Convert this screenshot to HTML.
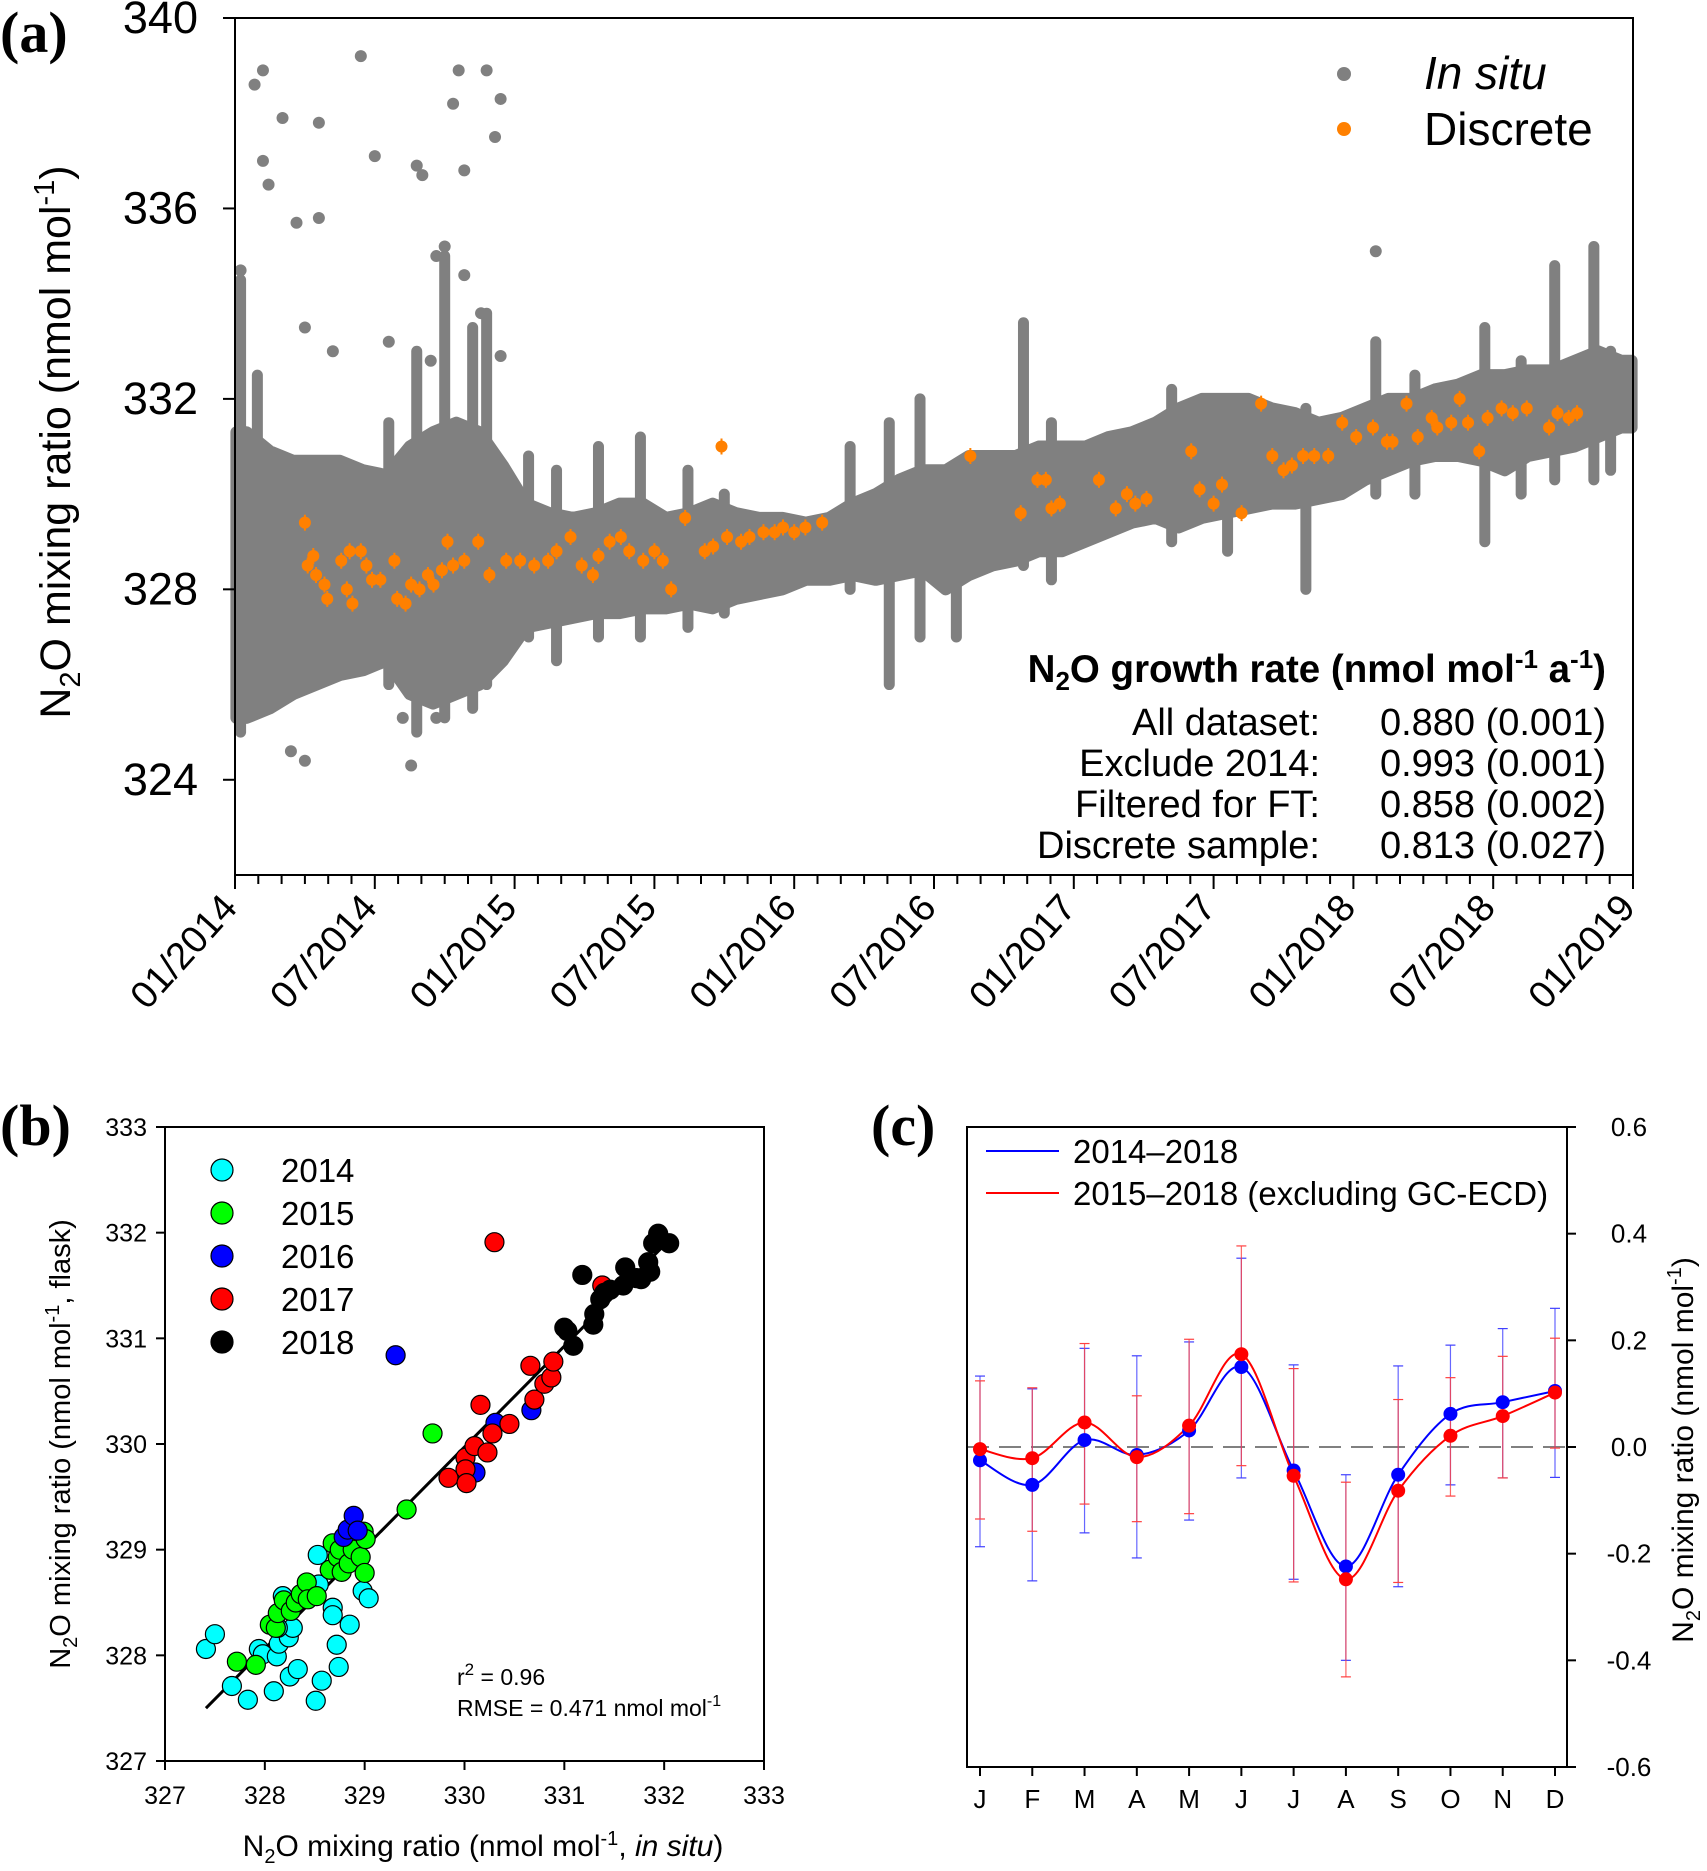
<!DOCTYPE html>
<html><head><meta charset="utf-8"><style>
body{margin:0;background:#fff}
svg{display:block;font-family:"Liberation Sans",Arial,sans-serif}
.pl{font-family:"Liberation Serif",serif;font-weight:bold}
</style></head><body>
<svg id="fig" width="1707" height="1871" viewBox="0 0 1707 1871" xmlns="http://www.w3.org/2000/svg">
<text class="pl" x="0" y="52" font-size="58">(a)</text>
<text class="pl" x="0" y="1145" font-size="58">(b)</text>
<text class="pl" x="871" y="1145" font-size="58">(c)</text>
<g id="pa"></g>
<g id="pb"></g>
<g id="pc"></g>
</svg>
<script>
// ---------- Panel A data ----------
const aYTicks=[324,328,332,336,340];
const aXLabels=["01/2014","07/2014","01/2015","07/2015","01/2016","07/2016","01/2017","07/2017","01/2018","07/2018","01/2019"];
const bandLow=[325.3,325.5,325.8,326,326.2,326.3,326.5,325.8,325.6,325.8,326,326.5,
327.2,327.3,327.4,327.5,327.5,327.6,327.6,327.7,327.6,327.8,327.9,328.0,
328.2,328.2,328.3,328.2,328.3,328.4,328.0,328.3,328.5,328.6,328.8,328.8,
329,329.2,329.4,329.5,329.3,329.5,329.6,329.7,329.8,329.8,329.9,330.0,
330.3,330.5,330.7,330.8,330.8,330.7,330.5,330.8,330.9,331,331.2,331.4];
const bandHigh=[331.3,330.9,330.7,330.7,330.7,330.5,330.4,331.0,331.3,331.5,331.3,330.6,
329.8,329.6,329.5,329.6,329.8,329.8,329.5,329.6,329.8,329.6,329.5,329.5,
329.4,329.5,329.8,330.0,330.3,330.5,330.5,330.8,330.8,330.8,331,331,
331,331.2,331.3,331.5,331.8,332,332,332,331.8,331.7,331.5,331.6,
331.8,332,332,332.2,332.3,332.5,332.5,332.6,332.6,332.8,333,332.8];
const spikes=[[2014.02,325,334.5],[2014.08,326,332.5],[2014.55,326,331.5],[2014.65,325,333],[2014.75,325.3,335],[2014.85,325.5,333.5],[2014.9,326,333.8],[2015.05,327,330.8],[2015.15,326.5,330.5],[2015.3,327,331],[2015.45,327,331.2],[2015.62,327.2,330.5],[2015.75,327.5,330],[2016.2,328,331],[2016.34,326,331.5],[2016.45,327,332],[2016.58,327,330.5],[2016.82,328.5,333.6],[2016.92,328.2,331.5],[2017.35,329,332.2],[2017.55,328.8,332],[2017.83,328,331.8],[2018.08,330,333.2],[2018.22,330,332.5],[2018.47,329,333.5],[2018.6,330,332.8],[2018.72,330.3,334.8],[2018.86,330.3,335.2],[2018.92,330.5,333],[2018.99,331.8,332.8]];
const outT=[2014.02,2014.07,2014.1,2014.1,2014.12,2014.17,2014.22,2014.25,2014.3,2014.3,2014.35,2014.45,2014.5,2014.2,2014.25,2014.72,2014.78,2014.8,2014.82,2014.9,2014.93,2014.95,2014.65,2014.67,2014.75,2014.82,2014.88,2014.95,2014.55,2014.63,2014.7,2014.6,2014.72,2018.08];
const outV=[334.7,338.6,338.9,337,336.5,337.9,335.7,333.5,337.8,335.8,333,339.2,337.1,324.6,324.4,335,338.2,338.9,336.8,338.9,337.5,338.3,336.9,336.7,335.2,334.6,333.8,332.9,333.2,324.3,332.8,325.3,325.3,335.1];
const discT=[2014.25,2014.26,2014.28,2014.29,2014.32,2014.33,2014.38,2014.40,2014.41,2014.42,2014.45,2014.47,2014.49,2014.52,2014.57,2014.58,2014.61,2014.63,2014.66,2014.69,2014.71,2014.74,2014.76,2014.78,2014.82,2014.87,2014.91,2014.97,2015.02,2015.07,2015.12,2015.15,2015.20,2015.24,2015.28,2015.30,2015.34,2015.38,2015.41,2015.46,2015.50,2015.53,2015.56,2015.61,2015.68,2015.71,2015.74,2015.76,2015.81,2015.84,2015.89,2015.93,2015.96,2016.00,2016.04,2016.10,2016.63,2016.81,2016.87,2016.90,2016.92,2016.95,2017.09,2017.15,2017.19,2017.22,2017.26,2017.42,2017.45,2017.50,2017.53,2017.60,2017.67,2017.71,2017.75,2017.78,2017.82,2017.86,2017.91,2017.96,2018.01,2018.07,2018.12,2018.14,2018.19,2018.23,2018.28,2018.30,2018.35,2018.38,2018.41,2018.45,2018.48,2018.53,2018.57,2018.62,2018.70,2018.73,2018.77,2018.80];
const discV=[329.4,328.5,328.7,328.3,328.1,327.8,328.6,328.0,328.8,327.7,328.8,328.5,328.2,328.2,328.6,327.8,327.7,328.1,328.0,328.3,328.1,328.4,329.0,328.5,328.6,329.0,328.3,328.6,328.6,328.5,328.6,328.8,329.1,328.5,328.3,328.7,329.0,329.1,328.8,328.6,328.8,328.6,328.0,329.5,328.8,328.9,331.0,329.1,329.0,329.1,329.2,329.2,329.3,329.2,329.3,329.4,330.8,329.6,330.3,330.3,329.7,329.8,330.3,329.7,330.0,329.8,329.9,330.9,330.1,329.8,330.2,329.6,331.9,330.8,330.5,330.6,330.8,330.8,330.8,331.5,331.2,331.4,331.1,331.1,331.9,331.2,331.6,331.4,331.5,332.0,331.5,330.9,331.6,331.8,331.7,331.8,331.4,331.7,331.6,331.7];
const rateLabels=["All dataset:","Exclude 2014:","Filtered for FT:","Discrete sample:"];
const rateValues=["0.880 (0.001)","0.993 (0.001)","0.858 (0.002)","0.813 (0.027)"];

// ---------- Panel B data ----------
const bTicks=[327,328,329,330,331,332,333];
const bYears=["2014","2015","2016","2017","2018"];
const bColors=["#00ffff","#00ff00","#0000ff","#ff0000","#000000"];
const bX2014=[327.41,327.50,327.67,327.83,327.94,327.98,328.09,328.12,328.14,328.18,328.24,328.25,328.28,328.33,328.51,328.53,328.54,328.57,328.68,328.68,328.72,328.74,328.85,328.98,329.04,328.13];
const bY2014=[328.06,328.20,327.71,327.58,328.06,328.01,327.66,327.99,328.11,328.56,328.17,327.80,328.26,327.87,327.57,328.95,328.67,327.76,328.45,328.38,328.10,327.89,328.29,328.61,328.54,328.26];
const bX2015=[327.72,327.91,328.05,328.11,328.13,328.19,328.26,328.31,328.36,328.42,328.43,328.52,328.65,328.68,328.73,328.75,328.77,328.84,328.88,328.96,328.99,329.00,329.01,329.42,329.68];
const bY2015=[327.94,327.91,328.29,328.26,328.40,328.52,328.42,328.50,328.58,328.69,328.53,328.56,328.81,329.06,328.93,329.00,328.79,328.87,329.00,328.93,329.17,328.78,329.10,329.38,330.10];
const bX2016=[328.79,328.83,328.89,328.93,329.31,330.11,330.31,330.67];
const bY2016=[329.12,329.19,329.32,329.18,330.84,329.73,330.20,330.32];
const bX2017=[329.84,330.01,330.01,330.02,330.10,330.16,330.23,330.28,330.30,330.45,330.66,330.70,330.80,330.87,330.89,331.38];
const bY2017=[329.68,329.87,329.76,329.63,329.98,330.37,329.92,330.10,331.91,330.19,330.74,330.42,330.57,330.63,330.78,331.50];
const bX2018=[331.0,331.03,331.09,331.29,331.30,331.18,331.36,331.40,331.46,331.59,331.61,331.72,331.77,331.84,331.86,331.89,331.94,332.05];
const bY2018=[331.10,331.07,330.93,331.13,331.23,331.60,331.37,331.43,331.46,331.50,331.67,331.57,331.56,331.72,331.63,331.90,331.99,331.90];
const fitX=[327.41,332.02];
const fitY=[327.50,331.90];

// ---------- Panel C data ----------
const months=["J","F","M","A","M","J","J","A","S","O","N","D"];
const cTicks=[-0.6,-0.4,-0.2,0.0,0.2,0.4,0.6];
const cTickLabels=["-0.6","-0.4","-0.2","0.0","0.2","0.4","0.6"];
const blueVal=[-0.025,-0.071,0.013,-0.015,0.031,0.15,-0.044,-0.224,-0.052,0.062,0.084,0.105];
const blueHi=[0.133,0.109,0.185,0.171,0.197,0.354,0.154,-0.052,0.152,0.191,0.222,0.26];
const blueLo=[-0.187,-0.251,-0.161,-0.208,-0.137,-0.058,-0.248,-0.4,-0.262,-0.071,-0.058,-0.057];
const redVal=[-0.004,-0.021,0.046,-0.019,0.040,0.174,-0.054,-0.248,-0.082,0.021,0.058,0.102];
const redHi=[0.124,0.111,0.194,0.096,0.202,0.377,0.147,-0.066,0.089,0.130,0.170,0.204];
const redLo=[-0.135,-0.158,-0.107,-0.140,-0.125,-0.035,-0.253,-0.431,-0.254,-0.092,-0.058,-0.002];

const NS="http://www.w3.org/2000/svg";
function mk(p,t,a,txt){const e=document.createElementNS(NS,t);for(const k in a)e.setAttribute(k,a[k]);if(txt!==undefined)e.textContent=txt;p.appendChild(e);return e;}

// ===== Panel A =====
(function(){
const g=document.getElementById('pa');
const L=235,R=1633,T=18,B=875;
const x=t=>L+(t-2014)/5*(R-L);
const y=v=>T+(340-v)/18*(B-T);
let up=[],dn=[];
for(let i=0;i<bandLow.length;i++){const t=2014+(i+0.5)/12;up.push(x(t)+","+y(bandHigh[i]));dn.unshift(x(t)+","+y(bandLow[i]));}
up.unshift(x(2014.005)+","+y(bandHigh[0]));dn.push(x(2014.005)+","+y(bandLow[0]));
up.push(x(2018.995)+","+y(bandHigh[59]));dn.unshift(x(2018.995)+","+y(bandLow[59]));
let band=mk(g,'polygon',{points:up.concat(dn).join(" "),fill:"#808080",stroke:"#808080","stroke-width":12,"stroke-linejoin":"round"});


spikes.forEach(s=>{const l=mk(g,'line',{x1:x(s[0]),x2:x(s[0]),y1:y(s[1]),y2:y(s[2]),stroke:"#808080","stroke-width":11,"stroke-linecap":"round"});

});
outT.forEach((t,i)=>{const c=mk(g,'circle',{cx:x(t),cy:y(outV[i]),r:6,fill:"#808080"});

});
discT.forEach((t,i)=>{const cy=y(discV[i]);
mk(g,'line',{x1:x(t),x2:x(t),y1:cy-8,y2:cy+8,stroke:"#ff8000","stroke-width":2});
const c=mk(g,'circle',{cx:x(t),cy:cy,r:6,fill:"#ff8000"});

});
mk(g,'rect',{x:L,y:T,width:R-L,height:B-T,fill:"none",stroke:"#000","stroke-width":2});
aYTicks.forEach(v=>{mk(g,'line',{x1:L-12,x2:L,y1:y(v),y2:y(v),stroke:"#000","stroke-width":2});
const t=mk(g,'text',{x:L-37,y:y(v)+15,"text-anchor":"end","font-size":45},String(v));

});
for(let m=0;m<=60;m++){const xx=x(2014+m/12);const big=m%6==0;
mk(g,'line',{x1:xx,x2:xx,y1:B,y2:B+(big?14:9),stroke:"#000","stroke-width":2});}
aXLabels.forEach((s,i)=>{const xx=x(2014+i/2)+4,yy=B+34;
const t=mk(g,'text',{x:xx,y:yy,"text-anchor":"end","font-size":38,transform:`rotate(-48 ${xx} ${yy})`},s);

});
const yt=mk(g,'text',{x:0,y:0,transform:"translate(70 442) rotate(-90)","text-anchor":"middle","font-size":43,});
yt.innerHTML='N<tspan font-size="29" dy="10">2</tspan><tspan dy="-10">O mixing ratio (nmol mol</tspan><tspan font-size="29" dy="-16">-1</tspan><tspan dy="16">)</tspan>';
mk(g,'circle',{cx:1344,cy:74,r:7,fill:"#808080",});
mk(g,'circle',{cx:1344,cy:129,r:7,fill:"#ff8000",});
mk(g,'text',{x:1424,y:89,"font-size":46,"font-style":"italic",},"In situ");
mk(g,'text',{x:1424,y:145,"font-size":46,},"Discrete");
const ht=mk(g,'text',{x:1606,y:682,"text-anchor":"end","font-size":38.5,"font-weight":"bold",});
ht.innerHTML='N<tspan font-size="26" dy="8">2</tspan><tspan dy="-8">O growth rate (nmol mol</tspan><tspan font-size="26" dy="-14">-1</tspan><tspan dy="14"> a</tspan><tspan font-size="26" dy="-14">-1</tspan><tspan dy="14">)</tspan>';
rateLabels.forEach((s,i)=>{
const a=mk(g,'text',{x:1320,y:735+i*41,"text-anchor":"end","font-size":38},s);


const b=mk(g,'text',{x:1606,y:735+i*41,"text-anchor":"end","font-size":38},rateValues[i]);

});
})();

// ===== Panel B =====
(function(){
const g=document.getElementById('pb');
const L=165,R=764,T=1127,B=1761;
const x=v=>L+(v-327)/6*(R-L), y=v=>B-(v-327)/6*(B-T);
mk(g,'line',{x1:x(fitX[0]),y1:y(fitY[0]),x2:x(fitX[1]),y2:y(fitY[1]),stroke:"#000","stroke-width":3,});
const sets=[[bX2014,bY2014],[bX2015,bY2015],[bX2016,bY2016],[bX2017,bY2017],[bX2018,bY2018]];
sets.forEach((s,k)=>{s[0].forEach((v,i)=>{const c=mk(g,'circle',{cx:x(v),cy:y(s[1][i]),r:9.5,fill:bColors[k],stroke:"#000","stroke-width":1.2});

});});
mk(g,'rect',{x:L,y:T,width:R-L,height:B-T,fill:"none",stroke:"#000","stroke-width":2});
bTicks.forEach(v=>{
mk(g,'line',{x1:L-9,x2:L,y1:y(v),y2:y(v),stroke:"#000","stroke-width":2});
mk(g,'line',{x1:x(v),x2:x(v),y1:B,y2:B+9,stroke:"#000","stroke-width":2});
const a=mk(g,'text',{x:L-18,y:y(v)+9,"text-anchor":"end","font-size":25},String(v));


const b=mk(g,'text',{x:x(v),y:B+43,"text-anchor":"middle","font-size":25},String(v));

});
bYears.forEach((s,i)=>{const yy=1170+i*43;
const c=mk(g,'circle',{cx:222,cy:yy,r:11,fill:bColors[i],stroke:"#000","stroke-width":1.2});


const t=mk(g,'text',{x:281,y:yy+12,"font-size":33},s);

});
const r2=mk(g,'text',{x:457,y:1685,"font-size":23,});
r2.innerHTML='r<tspan font-size="17" dy="-10">2</tspan><tspan dy="10"> = 0.96</tspan>';
const rm=mk(g,'text',{x:457,y:1716,"font-size":23,});
rm.innerHTML='RMSE = 0.471 nmol mol<tspan font-size="16" dy="-10">-1</tspan>';
const yt=mk(g,'text',{x:0,y:0,transform:"translate(70 1444) rotate(-90)","text-anchor":"middle","font-size":29,});
yt.innerHTML='N<tspan font-size="20" dy="7">2</tspan><tspan dy="-7">O mixing ratio (nmol mol</tspan><tspan font-size="20" dy="-11">-1</tspan><tspan dy="11">, flask)</tspan>';
const xt=mk(g,'text',{x:483,y:1856,"text-anchor":"middle","font-size":30,});
xt.innerHTML='N<tspan font-size="20" dy="7">2</tspan><tspan dy="-7">O mixing ratio (nmol mol</tspan><tspan font-size="20" dy="-11">-1</tspan><tspan dy="11">, </tspan><tspan font-style="italic">in situ</tspan>)';
})();

// ===== Panel C =====
(function(){
const g=document.getElementById('pc');
const L=967,R=1567,T=1127,B=1767;
const x=i=>980+i*(1555-980)/11, y=v=>T+(0.6-v)/1.2*(B-T);
mk(g,'line',{x1:L,x2:R,y1:y(0),y2:y(0),stroke:"#808080","stroke-width":2,"stroke-dasharray":"22 10",});
function curve(vals,col,name){
const p=vals.map((v,i)=>[x(i),y(v)]);
let d="M"+p[0][0]+","+p[0][1];
for(let i=0;i<p.length-1;i++){const p0=p[i-1]||p[i],p1=p[i],p2=p[i+1],p3=p[i+2]||p2;
d+=` C${p1[0]+(p2[0]-p0[0])/6},${p1[1]+(p2[1]-p0[1])/6} ${p2[0]-(p3[0]-p1[0])/6},${p2[1]-(p3[1]-p1[1])/6} ${p2[0]},${p2[1]}`;}
const e=mk(g,'path',{d:d,fill:"none",stroke:col,"stroke-width":2});

}
function errs(hi,lo,col,name){hi.forEach((h,i)=>{const xx=x(i);
const e=mk(g,'line',{x1:xx,x2:xx,y1:y(h),y2:y(lo[i]),stroke:col,"stroke-width":1.2,"stroke-opacity":0.8});


mk(g,'line',{x1:xx-5,x2:xx+5,y1:y(h),y2:y(h),stroke:col,"stroke-width":1.2});
mk(g,'line',{x1:xx-5,x2:xx+5,y1:y(lo[i]),y2:y(lo[i]),stroke:col,"stroke-width":1.2});});}
errs(blueHi,blueLo,"#4040ff","error-bar-2014-2018");
errs(redHi,redLo,"#ff4040","error-bar-2015-2018");
curve(blueVal,"#0000ff","line-2014-2018");
curve(redVal,"#ff0000","line-2015-2018");
blueVal.forEach((v,i)=>{const c=mk(g,'circle',{cx:x(i),cy:y(v),r:7,fill:"#0000ff"});

});
redVal.forEach((v,i)=>{const c=mk(g,'circle',{cx:x(i),cy:y(v),r:7,fill:"#ff0000"});

});
mk(g,'rect',{x:L,y:T,width:R-L,height:B-T,fill:"none",stroke:"#000","stroke-width":2});
cTicks.forEach((v,i)=>{mk(g,'line',{x1:R,x2:R+9,y1:y(v),y2:y(v),stroke:"#000","stroke-width":2});
const t=mk(g,'text',{x:R+62,y:y(v)+9,"text-anchor":"middle","font-size":26},cTickLabels[i]);

});
months.forEach((m,i)=>{mk(g,'line',{x1:x(i),x2:x(i),y1:B,y2:B+9,stroke:"#000","stroke-width":2});
const t=mk(g,'text',{x:x(i),y:B+41,"text-anchor":"middle","font-size":26},m);

});
mk(g,'line',{x1:986,x2:1059,y1:1151,y2:1151,stroke:"#0000ff","stroke-width":2,});
mk(g,'line',{x1:986,x2:1059,y1:1193,y2:1193,stroke:"#ff0000","stroke-width":2,});
mk(g,'text',{x:1073,y:1163,"font-size":33,},"2014–2018");
mk(g,'text',{x:1073,y:1205,"font-size":33,},"2015–2018 (excluding GC-ECD)");
const yt=mk(g,'text',{x:0,y:0,transform:"translate(1693 1450) rotate(-90)","text-anchor":"middle","font-size":30,});
yt.innerHTML='N<tspan font-size="20" dy="7">2</tspan><tspan dy="-7">O mixing ratio (nmol mol</tspan><tspan font-size="20" dy="-12">-1</tspan><tspan dy="12">)</tspan>';
})();
</script>
</body></html>
